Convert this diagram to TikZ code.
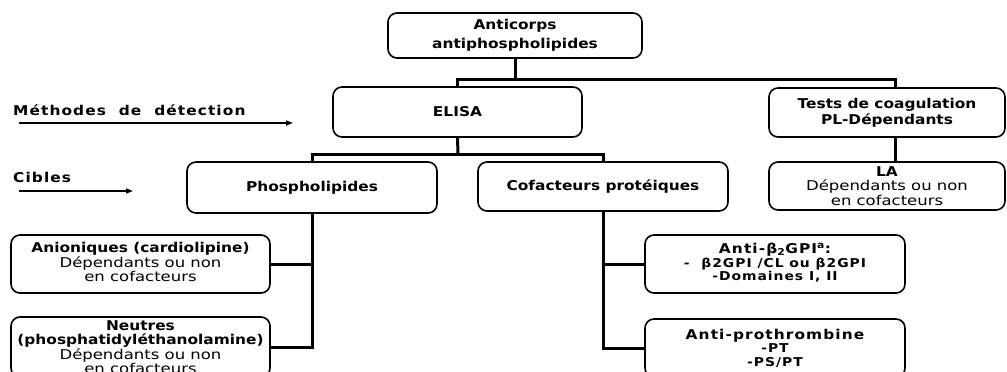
\documentclass[tikz,border=0pt]{standalone}
\usepackage{fontspec}
\setmainfont{DejaVu Sans}[UprightFeatures={FakeStretch=1.22}, BoldFeatures={FakeStretch=1.14}]
\usetikzlibrary{arrows.meta}
\newcommand\wide{\addfontfeature{LetterSpace=8}}
\begin{document}
\begin{tikzpicture}[x=1pt,y=-1pt,
  box/.style={draw, line width=1.6pt, rounded corners=9pt, align=center, inner sep=0pt},
  big/.style={font=\fontsize{13.5}{14.5}\selectfont},
  bigb/.style={font=\bfseries\fontsize{13.5}{14.5}\selectfont},
  small/.style={font=\bfseries\fontsize{12.2}{13.5}\selectfont\wide},
  link/.style={line width=3pt, line cap=rect},
  pointer/.style={line width=1.3pt, -{Triangle[length=7pt,width=5pt]}},
]
\clip (0,0) rectangle (1007,372);
\fill[white] (0,0) rectangle (1007,372);

% Root of the classification
\node[box, font=\bfseries\fontsize{13.5}{19}\selectfont, minimum width=254pt, minimum height=45pt] (root) at (515,35.5)
  {Anticorps\\antiphospholipides};

% Detection methods
\node[box, bigb, minimum width=249pt, minimum height=50pt] (elisa) at (457.5,112) {ELISA};
\node[box, font=\bfseries\fontsize{13.5}{16}\selectfont, minimum width=236pt, minimum height=49pt] (tests) at (887,112.5)
  {Tests\ de\ coagulation\\PL-Dépendants};

% Targets
\node[box, bigb, minimum width=250pt, minimum height=51pt] (phos) at (312,187.5) {Phospholipides};
\node[box, bigb, minimum width=250pt, minimum height=49pt] (cof) at (603,186.5) {Cofacteurs protéiques};
\node[box, big, minimum width=236pt, minimum height=48pt] (la) at (887,186)
  {\textbf{LA}\\Dépendants ou non\\en cofacteurs};

% Phospholipid subclasses
\node[box, big, minimum width=259pt, minimum height=58pt] (anion) at (140.5,264)
  {\raisebox{4pt}{\begin{tabular}{@{}c@{}}\textbf{Anioniques (cardiolipine)}\\Dépendants ou non\\en cofacteurs\end{tabular}}};
\node[box, big, minimum width=259pt, minimum height=60pt] (neut) at (140.5,347)
  {\textbf{Neutres}\\\textbf{(phosphatidyléthanolamine)}\\Dépendants ou non\\en cofacteurs};

% Protein cofactor subclasses
\node[box, small, minimum width=260pt, minimum height=58pt] (b2gpi) at (775,264)
  {\raisebox{-2pt}{\begin{tabular}{@{}c@{}}{\fontsize{13.5}{15}\selectfont Anti-β\textsubscript{2}GPI\textsuperscript{a}:}\\-\ \ β2GPI /CL ou β2GPI\\-Domaines I, II\end{tabular}}};
\node[box, small, minimum width=260pt, minimum height=58pt] (proth) at (775,348)
  {{\fontsize{13.5}{15}\selectfont Anti-prothrombine}\\-PT\\-PS/PT};

% Row labels with their arrows
\node[bigb, anchor=west, inner sep=0pt] (meth) at (13,110) {\wide Méthodes\ \ de\ \ détection};
\coordinate (methA) at (19,123);
\coordinate (methB) at (293,123);
\draw[pointer] (methA) -- (methB);
\node[bigb, anchor=west, inner sep=0pt] (cib) at (13,177) {\wide Cibles};
\coordinate (cibA) at (19,191);
\coordinate (cibB) at (133,191);
\draw[pointer] (cibA) -- (cibB);

% Tree connectors
\coordinate (j0) at (515,79);
\draw[link] (root.south) -- (j0);
\draw[link] (elisa.north) -- (elisa.north |- j0) -- ([xshift=8pt]tests.north |- j0) -- ([xshift=8pt]tests.north);
\draw[link] ([xshift=8pt]tests.south) -- ([xshift=8pt]la.north);

\coordinate (j1) at (458,154);
\draw[link] (elisa.south) -- (j1);
\draw[link] (phos.north) -- (phos.north |- j1) -- (cof.north |- j1) -- (cof.north);

\draw[link] (phos.south) -- (phos.south |- neut.east) -- (neut.east);
\draw[link] (anion.east) -- (anion.east -| phos.south);

\draw[link] (cof.south) -- (cof.south |- proth.west) -- (proth.west);
\draw[link] (b2gpi.west) -- (b2gpi.west -| cof.south);
\end{tikzpicture}
\end{document}
